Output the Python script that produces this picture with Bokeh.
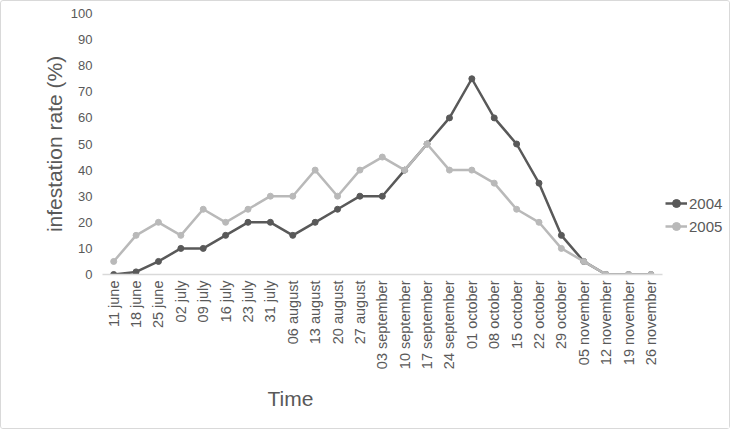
from bokeh.plotting import figure
from bokeh.models import ColumnDataSource, Legend, LegendItem, FixedTicker, Range1d, Title
from bokeh.embed import file_html
from bokeh.resources import INLINE

dates = ["11 june", "18 june", "25 june", "02 july", "09 july", "16 july", "23 july",
         "31 july", "06 august", "13 august", "20 august", "27 august", "03 september",
         "10 september", "17 september", "24 september", "01 october", "08 october",
         "15 october", "22 october", "29 october", "05 november", "12 november",
         "19 november", "26 november"]
rate_2004 = [0, 1, 5, 10, 10, 15, 20, 20, 15, 20, 25, 30, 30, 40, 50, 60, 75, 60, 50,
             35, 15, 5, 0, 0, 0]
rate_2005 = [5, 15, 20, 15, 25, 20, 25, 30, 30, 40, 30, 40, 45, 40, 50, 40, 40, 35, 25,
             20, 10, 5, 0, 0, 0]
y_ticks = [0, 10, 20, 30, 40, 50, 60, 70, 80, 90, 100]

FONT = "Liberation Sans"
TXT = "#595959"
C2004 = "#595959"
C2005 = "#b9b9b9"

pos = list(range(len(dates)))
src = ColumnDataSource(dict(x=pos, d=dates, a=rate_2004, b=rate_2005))

n = len(dates)
# frame extends to the right past the last category to leave room for the legend
p = figure(width=730, height=429, x_range=Range1d(-0.5, n - 0.5 + 3.1),
           y_range=Range1d(0, 100),
           output_backend="svg", toolbar_location=None,
           min_border_left=101, min_border_right=0, min_border_top=12,
           min_border_bottom=156)
p.styles = {"border": "1px solid #d9d9d9", "border-radius": "3px"}
p.outline_line_color = None
p.grid.visible = False

l1 = p.line("x", "a", source=src, line_color=C2004, line_width=2.5)
m1 = p.scatter("x", "a", source=src, size=6, fill_color=C2004, line_color=C2004)
l2 = p.line("x", "b", source=src, line_color=C2005, line_width=2.5)
m2 = p.scatter("x", "b", source=src, size=6, fill_color=C2005, line_color=C2005)

# y axis
ya = p.yaxis[0]
ya.ticker = FixedTicker(ticks=y_ticks)
ya.axis_line_color = None
ya.major_tick_line_color = None
ya.minor_tick_line_color = None
ya.major_tick_out = 0
ya.major_tick_in = 0
ya.minor_tick_out = 0
ya.major_label_text_font = FONT
ya.major_label_text_font_size = "13px"
ya.major_label_text_color = TXT
ya.major_label_standoff = 10
ya.axis_label = "infestation rate (%)"
ya.axis_label_text_font = FONT
ya.axis_label_text_font_size = "21px"
ya.axis_label_text_font_style = "normal"
ya.axis_label_text_color = TXT
ya.axis_label_standoff = 2

# x axis (category labels on integer positions)
xa = p.xaxis[0]
xa.ticker = FixedTicker(ticks=pos)
xa.major_label_overrides = {i: d for i, d in zip(pos, dates)}
xa.bounds = (-0.5, n - 0.5)
xa.axis_line_color = "#d9d9d9"
xa.axis_line_width = 1.5
xa.major_tick_line_color = None
xa.minor_tick_line_color = None
xa.major_tick_out = 0
xa.major_tick_in = 0
xa.minor_tick_out = 0
xa.minor_tick_in = 0
xa.major_label_orientation = 3.14159265 / 2
xa.major_label_text_font = FONT
xa.major_label_text_font_size = "14.5px"
xa.major_label_text_color = TXT
xa.major_label_standoff = 6

# x axis title, centred under the category span rather than the whole frame
p.add_layout(Title(text="Time", align="left", offset=165, standoff=25,
                   text_font=FONT, text_font_size="21px", text_font_style="normal",
                   text_color=TXT), "below")

legend = Legend(items=[LegendItem(label="2004", renderers=[l1, m1]),
                       LegendItem(label="2005", renderers=[l2, m2])],
                location=(563, 38), padding=0, margin=0, spacing=3,
                glyph_width=22, glyph_height=20, label_standoff=2,
                label_text_font=FONT, label_text_font_size="15px",
                label_text_color=TXT, border_line_color=None,
                background_fill_alpha=0)
p.add_layout(legend, "center")

open("out.html", "w").write(file_html(p, INLINE))
